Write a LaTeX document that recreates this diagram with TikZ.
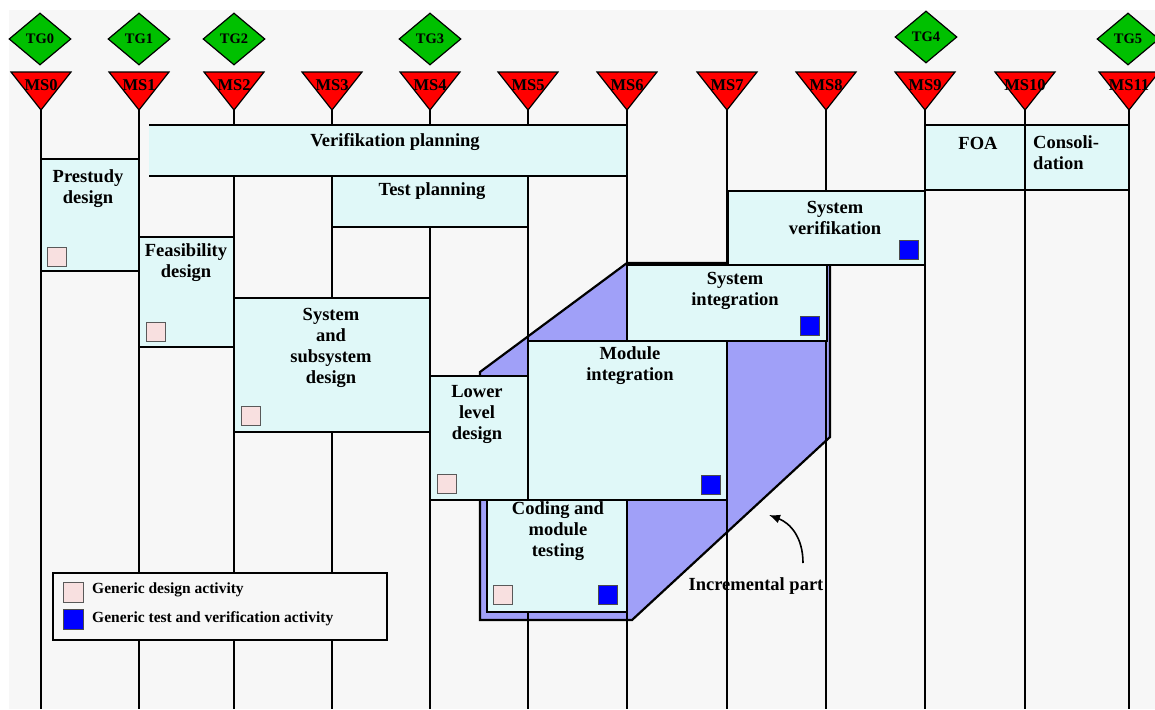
\documentclass[tikz,border=0pt]{standalone}
\usepackage{fontspec}
\setmainfont{Liberation Serif}
\usetikzlibrary{shapes.geometric,arrows.meta,fit}

\definecolor{canvas}{HTML}{F7F7F7}
\definecolor{actfill}{HTML}{E0F8F8}
\definecolor{incrfill}{HTML}{A0A0F8}
\definecolor{designsq}{HTML}{F8E0E0}
\definecolor{testsq}{HTML}{0000FF}
\definecolor{msred}{HTML}{FF0000}
\definecolor{tggreen}{HTML}{00C000}

\newcommand\actfont{\bfseries\fontsize{18.5}{21}\selectfont}
\newcommand\msfont{\bfseries\fontsize{16.5}{17}\selectfont}
\newcommand\tgfont{\bfseries\fontsize{14.5}{15}\selectfont}
\newcommand\legfont{\bfseries\fontsize{15.5}{17}\selectfont}

\begin{document}
\begin{tikzpicture}[x=1pt,y=-1pt,
  lane/.style={line width=1.8pt},
  actbox/.style={fill=actfill,inner sep=0pt,outer sep=0pt},
  actedge/.style={draw,line width=1.6pt},
  lbl/.style={font=\actfont,align=center,inner sep=0pt},
  designmark/.style={draw=black!65,fill=designsq,line width=0.8pt,minimum size=19pt,inner sep=0pt},
  testmark/.style={draw=black!70,fill=testsq,line width=0.8pt,minimum size=19pt,inner sep=0pt},
  msmark/.style={draw,fill=msred,line width=1.2pt,line join=miter},
  mslabel/.style={font=\msfont,inner sep=0pt},
  tgmark/.style={diamond,draw,fill=tggreen,line width=1.2pt,minimum width=62pt,minimum height=52pt,inner sep=0pt,font=\tgfont},
  incrpart/.style={draw,fill=incrfill,line width=2.2pt,line join=miter},
  legendbox/.style={draw,fill=canvas,line width=2.4pt,inner sep=0pt}
]
\useasboundingbox (0,0) rectangle (1155,709);
\fill[white] (0,0) rectangle (1155,709);
\fill[canvas] (9,10) rectangle (1155,709);

% incremental part (drawn beneath the milestone lanes)
\filldraw[incrpart] (480,372) -- (627,263) -- (830,263) -- (830,437) -- (632,620) -- (480,620) -- cycle;

% milestone lanes
\foreach \i/\x in {0/41,1/139,2/234,3/332,4/430,5/528,6/627,7/727,8/826,9/925,10/1025,11/1129}{
  \coordinate (ms\i-tip) at (\x,110);
  \coordinate (ms\i-foot) at (\x,709);
  \draw[lane] (ms\i-tip) -- (ms\i-foot);
}

% verification planning: open on the left
\node[actbox,fit={(149,125) (627,176)}] (verplan) {};
\draw[line width=1.6pt] (verplan.north west) -- (verplan.north east) -- (verplan.south east) -- (verplan.south west);
\node[actbox,actedge,fit={(332,176) (528,227)}] (testplan) {};
\node[actbox,actedge,fit={(41,159) (139,271)}] (prestudy) {};
\node[actbox,actedge,fit={(139,237) (234,347)}] (feas) {};
\node[actbox,actedge,fit={(234,298) (430,432)}] (sysdes) {};
\node[actbox,actedge,fit={(728,191) (925,265)}] (sysver) {};
\node[actbox,actedge,fit={(925,125) (1025,190)}] (foa) {};
\node[actbox,actedge,fit={(1025,125) (1129,190)}] (consol) {};
\node[actbox,actedge,fit={(627,265) (827,341)}] (sysint) {};
\node[actbox,actedge,fit={(487,500) (627,612)}] (coding) {};
\node[actbox,actedge,fit={(528,341) (727,500)}] (modint) {};
\node[actbox,actedge,fit={(430,376) (528,500)}] (lowdes) {};

% activity labels
\node[lbl] (verplan-t) at (395,142) {Verifikation planning};
\node[lbl] (testplan-t) at (432,191) {Test planning};
\node[lbl] (prestudy-t) at (88,189) {Prestudy\\design};
\node[lbl] (feas-t) at (186,263) {Feasibility\\design};
\node[lbl] (sysdes-t) at (331,348) {System\\and\\subsystem\\design};
\node[lbl] (lowdes-t) at (477,414) {Lower\\level\\design};
\node[lbl] (modint-t) at (630,366) {Module\\integration};
\node[lbl] (sysint-t) at (735,291) {System\\integration};
\node[lbl] (coding-t) at (558,531) {Coding and\\module\\testing};
\node[lbl] (sysver-t) at (835,218) {System\\verifikation};
\node[lbl] (foa-t) at (978,143) {FOA};
\node[lbl,align=left,anchor=west] (consol-t) at (1033,153) {Consoli-\\dation};

% activity type marks
\node[designmark] (prestudy-m) at (57,257) {};
\node[designmark] (feas-m) at (156,332) {};
\node[designmark] (sysdes-m) at (251,416) {};
\node[designmark] (lowdes-m) at (447,484) {};
\node[testmark] (modint-m) at (711,485) {};
\node[designmark] (coding-m1) at (503,595) {};
\node[testmark] (coding-m2) at (608,595) {};
\node[testmark] (sysint-m) at (810,326) {};
\node[testmark] (sysver-m) at (909,250) {};

% incremental part annotation
\node[lbl] (incr-t) at (756,586) {Incremental part};
\coordinate (incr-tail) at (803,563);
\coordinate (incr-head) at (769,515);
\draw[line width=1.6pt,-{Latex[length=11pt,width=9pt]}] (incr-tail) .. controls (803,537) and (790,523) .. (incr-head);

% legend
\node[legendbox,fit={(53,573) (387,640)}] (legend) {};
\node[designmark,minimum size=20pt] (leg-d) at (73.5,592) {};
\node[testmark,minimum size=20pt] (leg-t) at (73.5,619) {};
\node[font=\legfont,anchor=west,inner sep=0pt] (leg-d-t) at (92,590) {Generic design activity};
\node[font=\legfont,anchor=west,inner sep=0pt] (leg-t-t) at (92,619) {Generic test and verification activity};

% milestones
\foreach \i/\x in {0/41,1/139,2/234,3/332,4/430,5/528,6/627,7/727,8/826,9/925,10/1025,11/1129}{
  \filldraw[msmark] (\x-30,72) -- (\x+30,72) -- (\x,110) -- cycle;
  \node[mslabel] (ms\i) at (\x,85) {MS\i};
}

% tollgates
\node[tgmark] (tg0) at (40,39) {TG0};
\node[tgmark] (tg1) at (139,39) {TG1};
\node[tgmark] (tg2) at (234,39) {TG2};
\node[tgmark] (tg3) at (430,39) {TG3};
\node[tgmark] (tg4) at (926,37) {TG4};
\node[tgmark] (tg5) at (1128,39) {TG5};
\end{tikzpicture}
\end{document}
